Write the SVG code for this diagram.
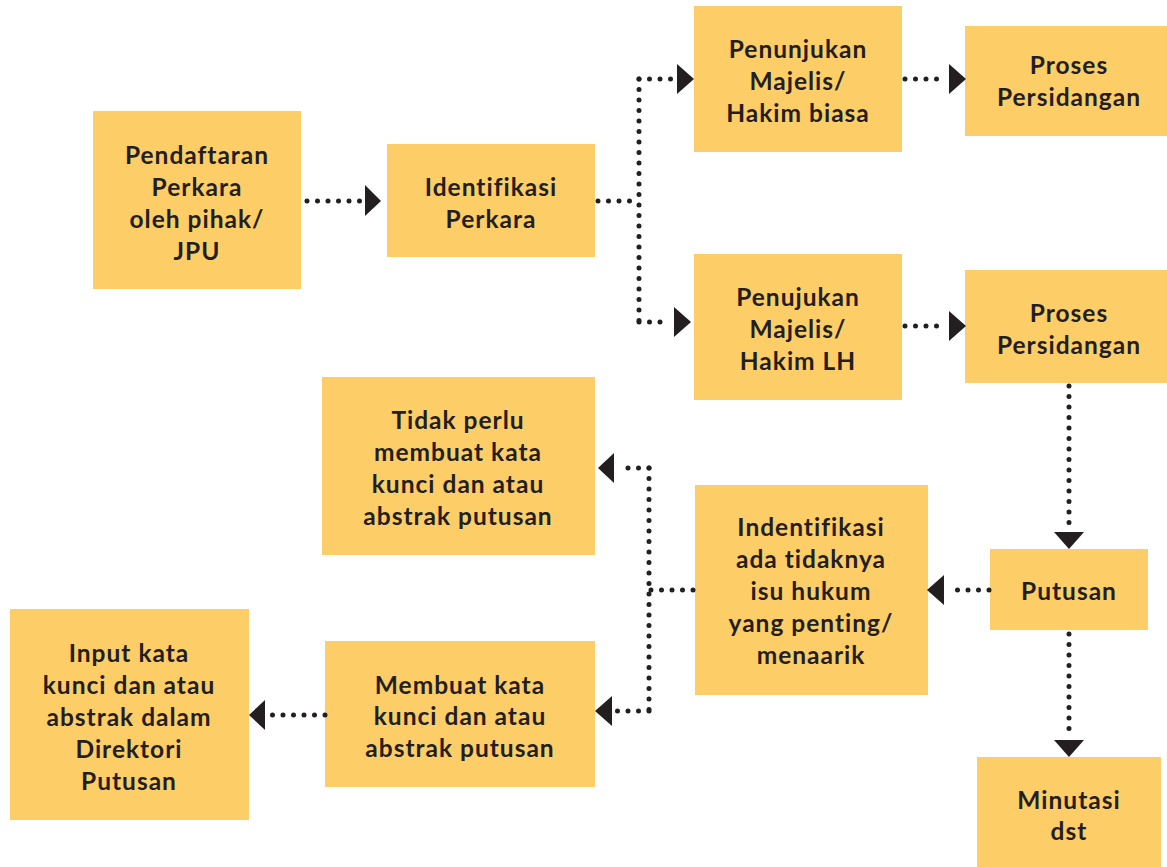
<svg xmlns="http://www.w3.org/2000/svg" width="1167" height="867" viewBox="0 0 1167 867">
<defs>
<style>
.box{fill:#FDCD67}
.t{font-family:Lato,"Liberation Sans",sans-serif;font-weight:bold;font-size:24.5px;letter-spacing:1px;fill:#231F20;text-anchor:middle}
.d{stroke:#231F20;stroke-width:5;stroke-linecap:round;stroke-dasharray:0 10.5;fill:none}
.ah{fill:#231F20}
</style>
</defs>
<rect width="1167" height="867" fill="#fff"/>
<g id="n1"><rect class="box" x="93" y="111" width="208" height="178"/>
<text class="t" x="197"><tspan x="197" y="164">Pendaftaran</tspan><tspan x="197" y="196">Perkara</tspan><tspan x="197" y="228">oleh pihak/</tspan><tspan x="197" y="260">JPU</tspan></text></g>
<g id="n2"><rect class="box" x="387" y="144" width="208" height="113"/>
<text class="t"><tspan x="491" y="196">Identifikasi</tspan><tspan x="491" y="228">Perkara</tspan></text></g>
<g id="n3"><rect class="box" x="694" y="6" width="208" height="146"/>
<text class="t"><tspan x="798" y="58">Penunjukan</tspan><tspan x="798" y="90">Majelis/</tspan><tspan x="798" y="122">Hakim biasa</tspan></text></g>
<g id="n4"><rect class="box" x="965" y="26" width="202" height="110"/>
<text class="t"><tspan x="1069" y="74">Proses</tspan><tspan x="1069" y="106">Persidangan</tspan></text></g>
<g id="n5"><rect class="box" x="694" y="254" width="208" height="146"/>
<text class="t"><tspan x="798" y="306">Penujukan</tspan><tspan x="798" y="338">Majelis/</tspan><tspan x="798" y="370">Hakim LH</tspan></text></g>
<g id="n6"><rect class="box" x="965" y="270" width="202" height="113"/>
<text class="t"><tspan x="1069" y="322">Proses</tspan><tspan x="1069" y="354">Persidangan</tspan></text></g>
<g id="n7"><rect class="box" x="990" y="549" width="158" height="81"/>
<text class="t"><tspan x="1069" y="600">Putusan</tspan></text></g>
<g id="n8"><rect class="box" x="977" y="757" width="184" height="110"/>
<text class="t"><tspan x="1069" y="809">Minutasi</tspan><tspan x="1069" y="840">dst</tspan></text></g>
<g id="n9"><rect class="box" x="695" y="485" width="233" height="210"/>
<text class="t"><tspan x="811" y="536">Indentifikasi</tspan><tspan x="811" y="568">ada tidaknya</tspan><tspan x="811" y="600">isu hukum</tspan><tspan x="811" y="632">yang penting/</tspan><tspan x="811" y="664">menaarik</tspan></text></g>
<g id="n10"><rect class="box" x="322" y="377" width="273" height="178"/>
<text class="t"><tspan x="458" y="429">Tidak perlu</tspan><tspan x="458" y="461">membuat kata</tspan><tspan x="458" y="493">kunci dan atau</tspan><tspan x="458" y="525">abstrak putusan</tspan></text></g>
<g id="n11"><rect class="box" x="325" y="641" width="270" height="146"/>
<text class="t"><tspan x="460" y="694">Membuat kata</tspan><tspan x="460" y="725">kunci dan atau</tspan><tspan x="460" y="757">abstrak putusan</tspan></text></g>
<g id="n12"><rect class="box" x="10" y="609" width="239" height="211"/>
<text class="t"><tspan x="129" y="662">Input kata</tspan><tspan x="129" y="694">kunci dan atau</tspan><tspan x="129" y="726">abstrak dalam</tspan><tspan x="129" y="758">Direktori</tspan><tspan x="129" y="790">Putusan</tspan></text></g>
<g id="connectors">
<path class="d" d="M307 201 H360"/>
<polygon class="ah" points="365,185 381,201 365,216"/>
<path class="d" d="M598 201 H639"/>
<path class="d" d="M639 79 V322"/>
<path class="d" d="M639 79 H672"/>
<polygon class="ah" points="677,64 694,79 677,94"/>
<path class="d" d="M639 322 H670"/>
<polygon class="ah" points="674,307 691,322 674,337"/>
<path class="d" d="M905 79 H945"/>
<polygon class="ah" points="949,64 966,79 949,94"/>
<path class="d" d="M905 326 H945"/>
<polygon class="ah" points="949,311 966,326 949,341"/>
<path class="d" d="M1069 386 V530"/>
<polygon class="ah" points="1054,532 1084,532 1069,549"/>
<path class="d" d="M1069 634 V738"/>
<polygon class="ah" points="1054,740 1084,740 1069,757"/>
<path class="d" d="M989 590 H948"/>
<polygon class="ah" points="944,575 944,605 927,590"/>
<path class="d" d="M693 590 H650"/>
<path class="d" d="M649 468 V711"/>
<path class="d" d="M649 468 H618"/>
<polygon class="ah" points="614,453 614,483 598,468"/>
<path class="d" d="M649 711 H616"/>
<polygon class="ah" points="612,696 612,726 595,711"/>
<path class="d" d="M325 715 H269"/>
<polygon class="ah" points="265,700 265,730 249,715"/>
</g>
</svg>
